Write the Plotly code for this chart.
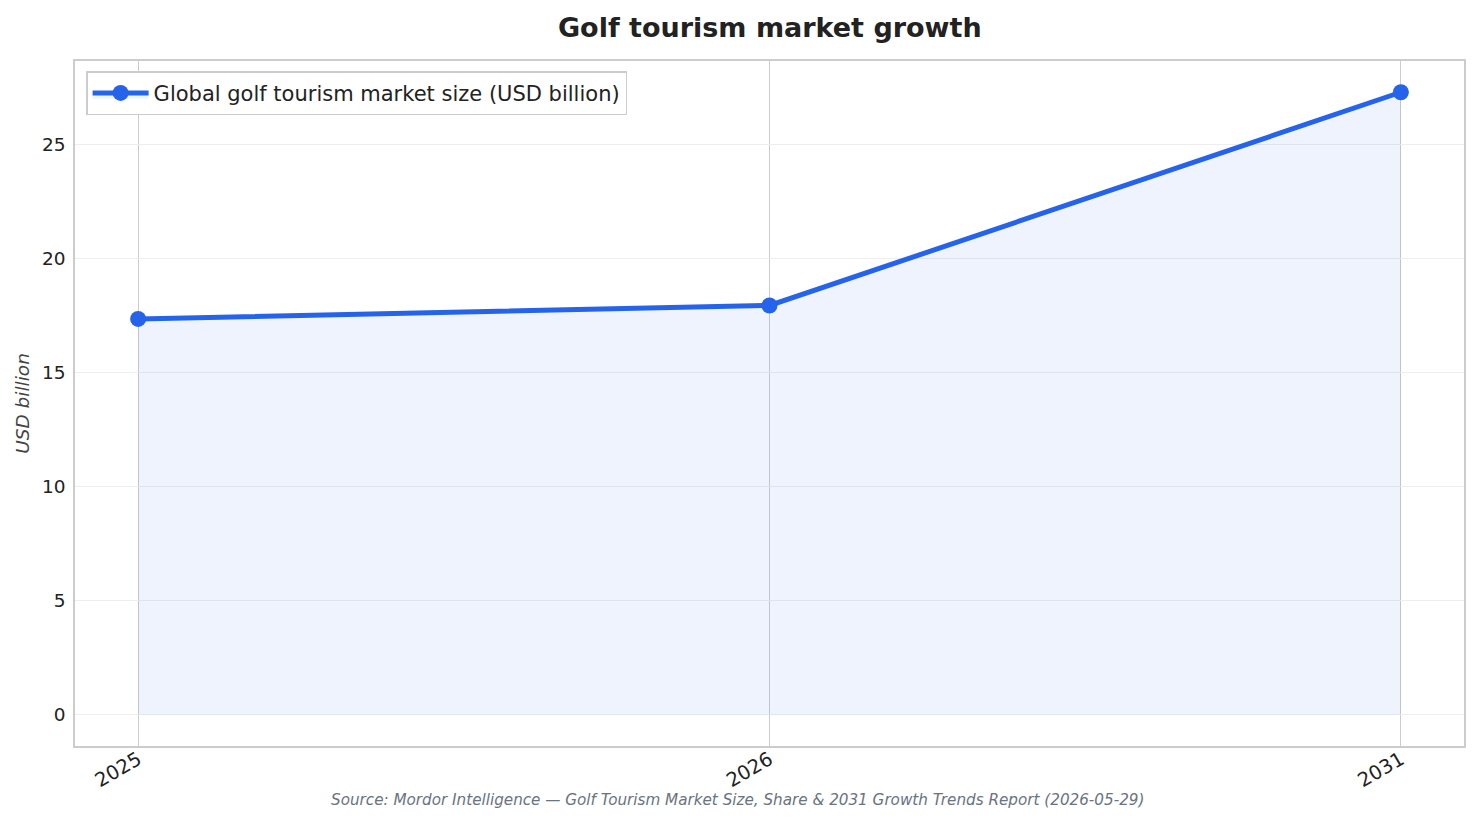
import plotly.graph_objects as go

years = ["2025", "2026", "2031"]
market_size = [17.36, 17.95, 27.30]
series_name = "Global golf tourism market size (USD billion)"

fig = go.Figure()
fig.add_trace(go.Scatter(
    x=years, y=market_size, name=series_name,
    mode="lines+markers",
    line=dict(color="#2563eb", width=5),
    marker=dict(size=16, color="#2563eb"),
    fill="tozeroy", fillcolor="rgba(37,99,235,0.08)",
))

# page has an 8px body margin, so the figure is a bit smaller than the window
fig.update_layout(
    width=1465, height=808,
    paper_bgcolor="white", plot_bgcolor="white",
    font=dict(family="DejaVu Sans", size=18, color="#222222"),
    title=dict(text="<b>Golf tourism market growth</b>", x=0.52, xanchor="center",
               y=0.976, yanchor="middle", font=dict(size=27, color="#222222")),
    margin=dict(l=67, r=7, t=53, b=70),
    showlegend=True,
    legend=dict(x=0.008, y=0.985, xanchor="left", yanchor="top",
                bordercolor="#cccccc", borderwidth=1.5, bgcolor="white",
                itemwidth=56, font=dict(size=21)),
    xaxis=dict(type="category", range=[-0.1, 2.1], tickangle=-30,
               showgrid=True, gridcolor="#cccccc", gridwidth=1,
               showline=True, linecolor="#cccccc", linewidth=1.5, mirror=True,
               ticks="", ticklabelstandoff=-7,
               tickfont=dict(size=19.5)),
    yaxis=dict(range=[-1.365, 28.67], tickvals=[0, 5, 10, 15, 20, 25],
               showgrid=True, gridcolor="#eeeeee", gridwidth=1, zeroline=False,
               showline=True, linecolor="#cccccc", linewidth=1.5, mirror=True,
               ticks="", ticklabelstandoff=4, tickfont=dict(size=18.5),
               title=dict(text="<i>USD billion</i>", standoff=8,
                          font=dict(size=18.5, color="#444444"))),
)

fig.add_annotation(
    text="<i>Source: Mordor Intelligence — Golf Tourism Market Size, Share &amp; 2031 Growth Trends Report (2026-05-29)</i>",
    xref="paper", yref="paper", x=0.477, y=-0.079, xanchor="center", yanchor="middle",
    showarrow=False, font=dict(size=15.2, color="#6b7280"),
)

fig.write_html("out.html")
